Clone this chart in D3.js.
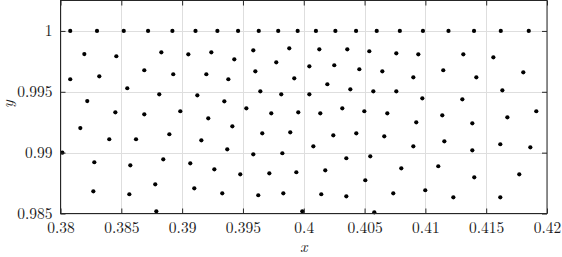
<!DOCTYPE html>
<html>
<head>
<meta charset="utf-8">
<script src="https://cdn.jsdelivr.net/npm/d3@7"></script>
<style>
  body { margin: 0; background: #fff; }
  svg { display: block; }
</style>
</head>
<body>
<svg id="chart"></svg>
<script>
// x ticks and y ticks
const xTicks = [0.38, 0.385, 0.39, 0.395, 0.4, 0.405, 0.41, 0.415, 0.42];
const xTickLabels = ['0.38', '0.385', '0.39', '0.395', '0.4', '0.405', '0.41', '0.415', '0.42'];
const yTicks = [0.985, 0.99, 0.995, 1];
const yTickLabels = ['0.985', '0.99', '0.995', '1'];

// points
const xValues = [
    // top row (y = 1)
    0.3808, 0.3830, 0.3852, 0.3872, 0.3892, 0.3911, 0.3929, 0.3946, 0.3963, 0.3979, 0.3995,
    0.4010, 0.4026, 0.4043, 0.4060, 0.4079, 0.4098, 0.4119, 0.4140, 0.4162, 0.4185,
    // 0.380 - 0.387
    0.38196, 0.38459, 0.38689, 0.3808, 0.38319, 0.38549, 0.38220, 0.38451, 0.38689, 0.38163,
    0.38401, 0.38621, 0.38015, 0.38278, 0.38574, 0.38270, 0.38566,
    // 0.387 - 0.394
    0.38829, 0.39051, 0.39240, 0.38927, 0.39199, 0.39380, 0.38812, 0.39125, 0.39347, 0.38985,
    0.39215, 0.38895, 0.39158, 0.39371, 0.38845, 0.39067, 0.39265, 0.38779, 0.39100, 0.39330,
    0.38788,
    // 0.394 - 0.401
    0.39585, 0.39881, 0.39429, 0.39774, 0.40046, 0.39602, 0.39922, 0.39643, 0.39815, 0.40046,
    0.39528, 0.39733, 0.39955, 0.39413, 0.39659, 0.39889, 0.40079, 0.39585, 0.39824, 0.39478,
    0.39717, 0.39939, 0.39626, 0.39832, 0.39988,
    // 0.401 - 0.408
    0.40128, 0.40358, 0.40539, 0.40761, 0.40251, 0.40457, 0.40646, 0.40194, 0.40383, 0.40572,
    0.40761, 0.40317, 0.40136, 0.40498, 0.40687, 0.40243, 0.40432, 0.40662, 0.40350, 0.40547,
    0.40177, 0.40802, 0.40506, 0.40144, 0.40350, 0.40736, 0.40580,
    // 0.408 - 0.415
    0.40942, 0.41312, 0.41147, 0.40901, 0.41419, 0.40975, 0.41304, 0.41139, 0.40925, 0.41386,
    0.41156, 0.40901, 0.41386, 0.41106, 0.41402, 0.40999, 0.41230,
    // 0.415 - 0.42
    0.41559, 0.41805, 0.41633, 0.41912, 0.41674, 0.41616, 0.41863, 0.41772, 0.41616
];
const yValues = [
    1, 1, 1, 1, 1, 1, 1, 1, 1, 1, 1,
    1, 1, 1, 1, 1, 1, 1, 1, 1, 1,
    0.99810, 0.99792, 0.99677, 0.99603, 0.99627, 0.99529, 0.99424, 0.99331, 0.99315, 0.99202,
    0.99110, 0.99110, 0.99000, 0.98921, 0.98896, 0.98682, 0.98658,
    0.99824, 0.99808, 0.99824, 0.99644, 0.99644, 0.99603, 0.99479, 0.99471, 0.99422, 0.99340,
    0.99282, 0.99151, 0.99101, 0.99027, 0.98945, 0.98912, 0.98863, 0.98740, 0.98707, 0.98666,
    0.98518,
    0.99841, 0.99857, 0.99767, 0.99742, 0.99709, 0.99668, 0.99611, 0.99504, 0.99479, 0.99479,
    0.99364, 0.99323, 0.99331, 0.99216, 0.99159, 0.99167, 0.99052, 0.98986, 0.98995, 0.98822,
    0.98830, 0.98839, 0.98650, 0.98666, 0.98518,
    0.99849, 0.99849, 0.99833, 0.99816, 0.99718, 0.99685, 0.99668, 0.99562, 0.99520, 0.99504,
    0.99504, 0.99364, 0.99323, 0.99340, 0.99323, 0.99142, 0.99159, 0.99134, 0.98954, 0.98970,
    0.98855, 0.98871, 0.98773, 0.98658, 0.98641, 0.98666, 0.98510,
    0.99808, 0.99808, 0.99677, 0.99619, 0.99619, 0.99446, 0.99438, 0.99307, 0.99249, 0.99241,
    0.99093, 0.99052, 0.99019, 0.98888, 0.98797, 0.98691, 0.98633,
    0.99783, 0.99660, 0.99512, 0.99340, 0.99290, 0.99069, 0.99044, 0.98822, 0.98633
];

const width = 562;
const height = 257;
const margin = { top: 0.5, right: 15, bottom: 43.5, left: 60.5 };
const serif = "'Latin Modern Roman', 'Liberation Serif', serif";

const svg = d3.select('#chart').attr('width', width).attr('height', height);

const xScale = d3.scaleLinear().domain([0.38, 0.42]).range([margin.left, width - margin.right]);
const yScale = d3.scaleLinear().domain([0.985, 1.0025]).range([height - margin.bottom, margin.top]);

const x0 = xScale.range()[0], x1 = xScale.range()[1];
const y0 = yScale.range()[0], y1 = yScale.range()[1];

// grid
svg.append('g').selectAll('line')
    .data(xTicks)
    .enter()
    .append('line')
    .attr('x1', d => Math.round(xScale(d)) + 0.5)
    .attr('x2', d => Math.round(xScale(d)) + 0.5)
    .attr('y1', y1)
    .attr('y2', y0)
    .attr('stroke', '#dedede')
    .attr('stroke-width', 1);

svg.append('g').selectAll('line')
    .data(yTicks)
    .enter()
    .append('line')
    .attr('x1', x0)
    .attr('x2', x1)
    .attr('y1', d => Math.round(yScale(d)) + 0.5)
    .attr('y2', d => Math.round(yScale(d)) + 0.5)
    .attr('stroke', '#dedede')
    .attr('stroke-width', 1);

// points
svg.append('g').selectAll('circle')
    .data(xValues)
    .enter()
    .append('circle')
    .attr('cx', (d, i) => xScale(d))
    .attr('cy', (d, i) => yScale(yValues[i]))
    .attr('r', 2.1)
    .attr('fill', '#000');

function styleAxis(g) {
    g.select('.domain').remove();
    g.selectAll('line').attr('stroke', '#262626');
    g.selectAll('text')
        .attr('font-family', serif)
        .attr('font-size', '15.5px')
        .attr('fill', '#1a1a1a');
}

// axes (ticks point inwards)
svg.append('g')
    .attr('transform', `translate(0, ${y0})`)
    .call(d3.axisBottom(xScale).tickValues(xTicks).tickSizeInner(-5).tickSizeOuter(0).tickPadding(8)
        .tickFormat((d, i) => xTickLabels[i]))
    .call(styleAxis);

svg.append('g')
    .attr('transform', `translate(0, ${y1})`)
    .call(d3.axisTop(xScale).tickValues(xTicks).tickSizeInner(-5).tickSizeOuter(0).tickFormat(''))
    .call(styleAxis);

svg.append('g')
    .attr('transform', `translate(${x0}, 0)`)
    .call(d3.axisLeft(yScale).tickValues(yTicks).tickSizeInner(-5).tickSizeOuter(0).tickPadding(8)
        .tickFormat((d, i) => yTickLabels[i]))
    .call(styleAxis);

svg.append('g')
    .attr('transform', `translate(${x1}, 0)`)
    .call(d3.axisRight(yScale).tickValues(yTicks).tickSizeInner(-5).tickSizeOuter(0).tickFormat(''))
    .call(styleAxis);

// box
svg.append('rect')
    .attr('x', x0)
    .attr('y', y1)
    .attr('width', x1 - x0)
    .attr('height', y0 - y1)
    .attr('fill', 'none')
    .attr('stroke', '#262626')
    .attr('stroke-width', 1);

// axis labels
svg.append('text')
    .attr('x', (x0 + x1) / 2)
    .attr('y', 252)
    .attr('text-anchor', 'middle')
    .attr('font-family', serif)
    .attr('font-style', 'italic')
    .attr('font-size', '16px')
    .attr('fill', '#1a1a1a')
    .text('x');

svg.append('text')
    .attr('transform', `translate(13, ${(y0 + y1) / 2 - 3}) rotate(-90)`)
    .attr('text-anchor', 'middle')
    .attr('font-family', serif)
    .attr('font-style', 'italic')
    .attr('font-size', '16px')
    .attr('fill', '#1a1a1a')
    .text('y');
</script>
</body>
</html>
